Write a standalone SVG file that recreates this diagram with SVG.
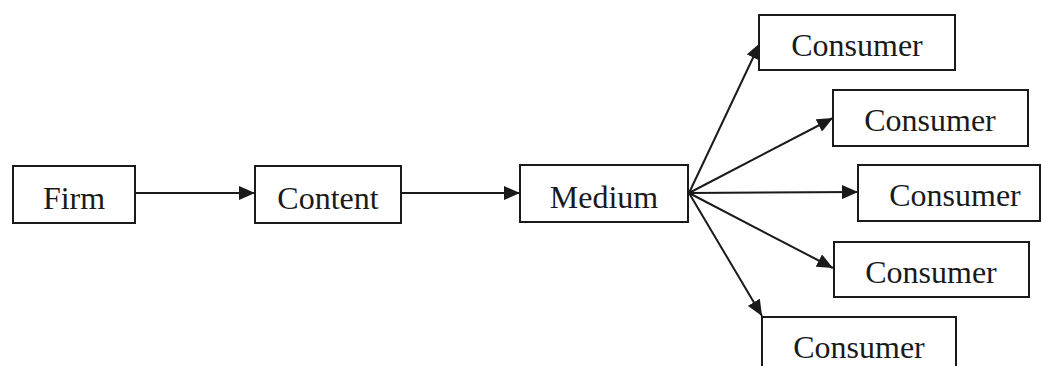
<svg xmlns="http://www.w3.org/2000/svg" width="1041" height="366" viewBox="0 0 1041 366">
<style>
.box{fill:#fff;stroke:#1a1a1a;stroke-width:2}
.lbl{font-family:"Liberation Serif","Times New Roman",serif;font-size:32px;fill:#1a1a1a;text-anchor:middle}
.edge{stroke:#1a1a1a;stroke-width:2;fill:none;marker-end:url(#ah)}
</style>
<defs>
<marker id="ah" viewBox="0 0 16 14" refX="16" refY="7" markerWidth="16" markerHeight="14" markerUnits="userSpaceOnUse" orient="auto">
<path d="M0,0 L16,7 L0,14 Z" fill="#1a1a1a"/>
</marker>
</defs>
<rect width="1041" height="366" fill="#fff"/>
<g id="connectors">
<line class="edge" x1="135" y1="193" x2="255" y2="193"/>
<line class="edge" x1="401" y1="193" x2="520" y2="193"/>
<line class="edge" x1="689" y1="193" x2="760" y2="43"/>
<line class="edge" x1="689" y1="193" x2="833" y2="118"/>
<line class="edge" x1="689" y1="193" x2="858" y2="192"/>
<line class="edge" x1="689" y1="193" x2="833" y2="268"/>
<line class="edge" x1="689" y1="193" x2="762" y2="316"/>
</g>
<g id="firm"><rect class="box" x="13" y="166" width="122" height="57"/><text class="lbl" x="74" y="209">Firm</text></g>
<g id="content"><rect class="box" x="255" y="166" width="146" height="57"/><text class="lbl" x="328" y="209">Content</text></g>
<g id="medium"><rect class="box" x="520" y="165" width="168" height="57"/><text class="lbl" x="604" y="208">Medium</text></g>
<g id="consumer1"><rect class="box" x="759" y="15" width="196" height="55"/><text class="lbl" x="857" y="56">Consumer</text></g>
<g id="consumer2"><rect class="box" x="833" y="90" width="195" height="56"/><text class="lbl" x="930" y="131">Consumer</text></g>
<g id="consumer3"><rect class="box" x="858" y="165" width="182" height="56"/><text class="lbl" x="955" y="206">Consumer</text></g>
<g id="consumer4"><rect class="box" x="834" y="242" width="195" height="55"/><text class="lbl" x="931" y="283">Consumer</text></g>
<g id="consumer5"><rect class="box" x="762" y="317" width="194" height="60"/><text class="lbl" x="859" y="358">Consumer</text></g>
</svg>
